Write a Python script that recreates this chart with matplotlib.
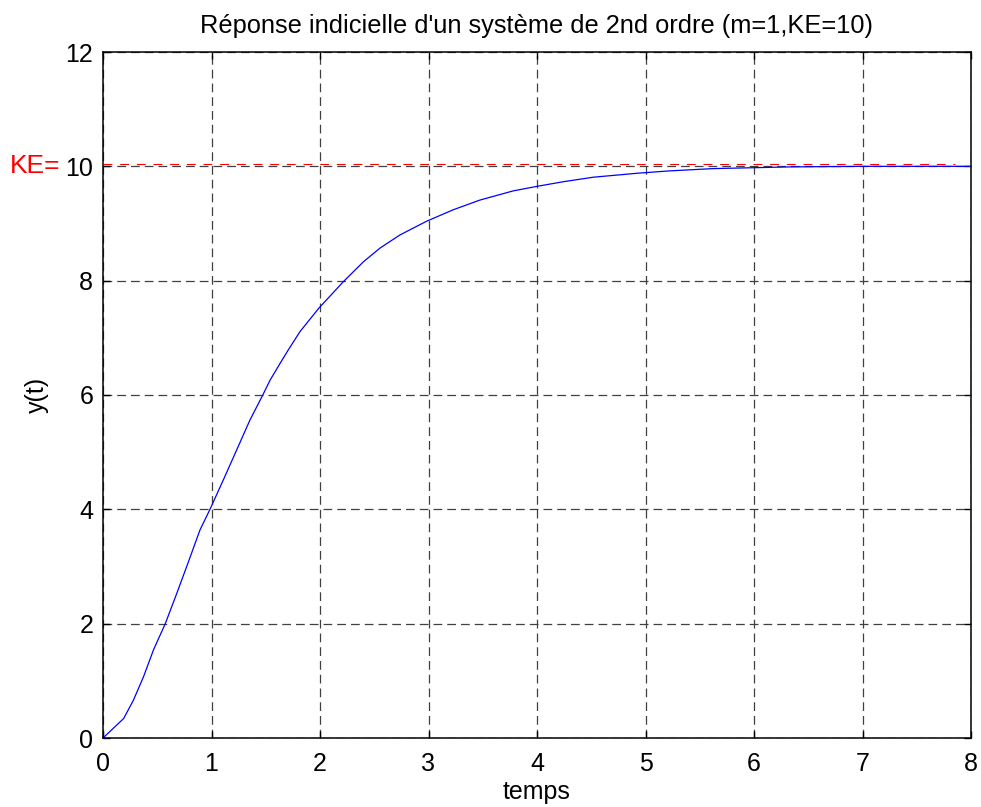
import matplotlib
matplotlib.use("Agg")
import matplotlib.pyplot as plt
import numpy as np

plt.rcParams['font.family'] = ['Liberation Sans', 'DejaVu Sans']

# Data
t = [0.0, 0.19, 0.28, 0.373, 0.465, 0.574, 0.68, 0.787, 0.894, 0.986, 1.108,
     1.23, 1.354, 1.47, 1.54, 1.631, 1.708, 1.816, 1.99, 2.214, 2.4, 2.553,
     2.737, 2.983, 3.228, 3.474, 3.78, 4.0, 4.24, 4.52, 4.93, 5.22, 5.62,
     6.33, 7.0, 8.0]
y = [0.0, 0.34, 0.66, 1.07, 1.54, 2.0, 2.53, 3.08, 3.64, 4.0, 4.51,
     5.03, 5.56, 5.99, 6.26, 6.55, 6.79, 7.11, 7.52, 7.98, 8.33, 8.57,
     8.80, 9.04, 9.24, 9.41, 9.57, 9.65, 9.73, 9.81, 9.88, 9.92, 9.96,
     9.99, 10.0, 10.0]
KE = 10
ke_line_t = [0.0, 7.85]
ke_line_y = [10.04, 10.04]
xticks = [0, 1, 2, 3, 4, 5, 6, 7, 8]
yticks = [0, 2, 4, 6, 8, 10, 12]

fig = plt.figure(figsize=(9.81, 8.07), dpi=100)
ax = fig.add_axes([103/981, 69/807, 868/981, 686/807])

ax.plot(t, y, color='#0000ff', lw=0.9)
ax.plot(ke_line_t, ke_line_y, color='#ff0000', lw=0.8, linestyle=(0, (8, 7)))

ax.set_xlim(0, 8)
ax.set_ylim(0, 12)
ax.set_xticks(xticks)
ax.set_yticks(yticks)
ax.grid(True, color='#404040', linewidth=0.9, linestyle=(0, (7, 4)))
ax.tick_params(direction='in', length=5, width=1, labelsize=18,
               top=True, right=True)
ax.tick_params(axis='y', pad=7)
ax.tick_params(axis='x', pad=10)
for s in ax.spines.values():
    s.set_linewidth(1.1)

ax.set_title("Réponse indicielle d'un système de 2nd ordre (m=1,KE=10)",
             fontsize=18.3, pad=14)
ax.set_xlabel('temps', fontsize=18, labelpad=3)
ax.set_ylabel('y(t)', fontsize=18, labelpad=12)

ax.text(-0.39, KE, 'KE=', color='red', fontsize=19, ha='right', va='center',
        clip_on=False)

fig.savefig('out.png', dpi=100)
